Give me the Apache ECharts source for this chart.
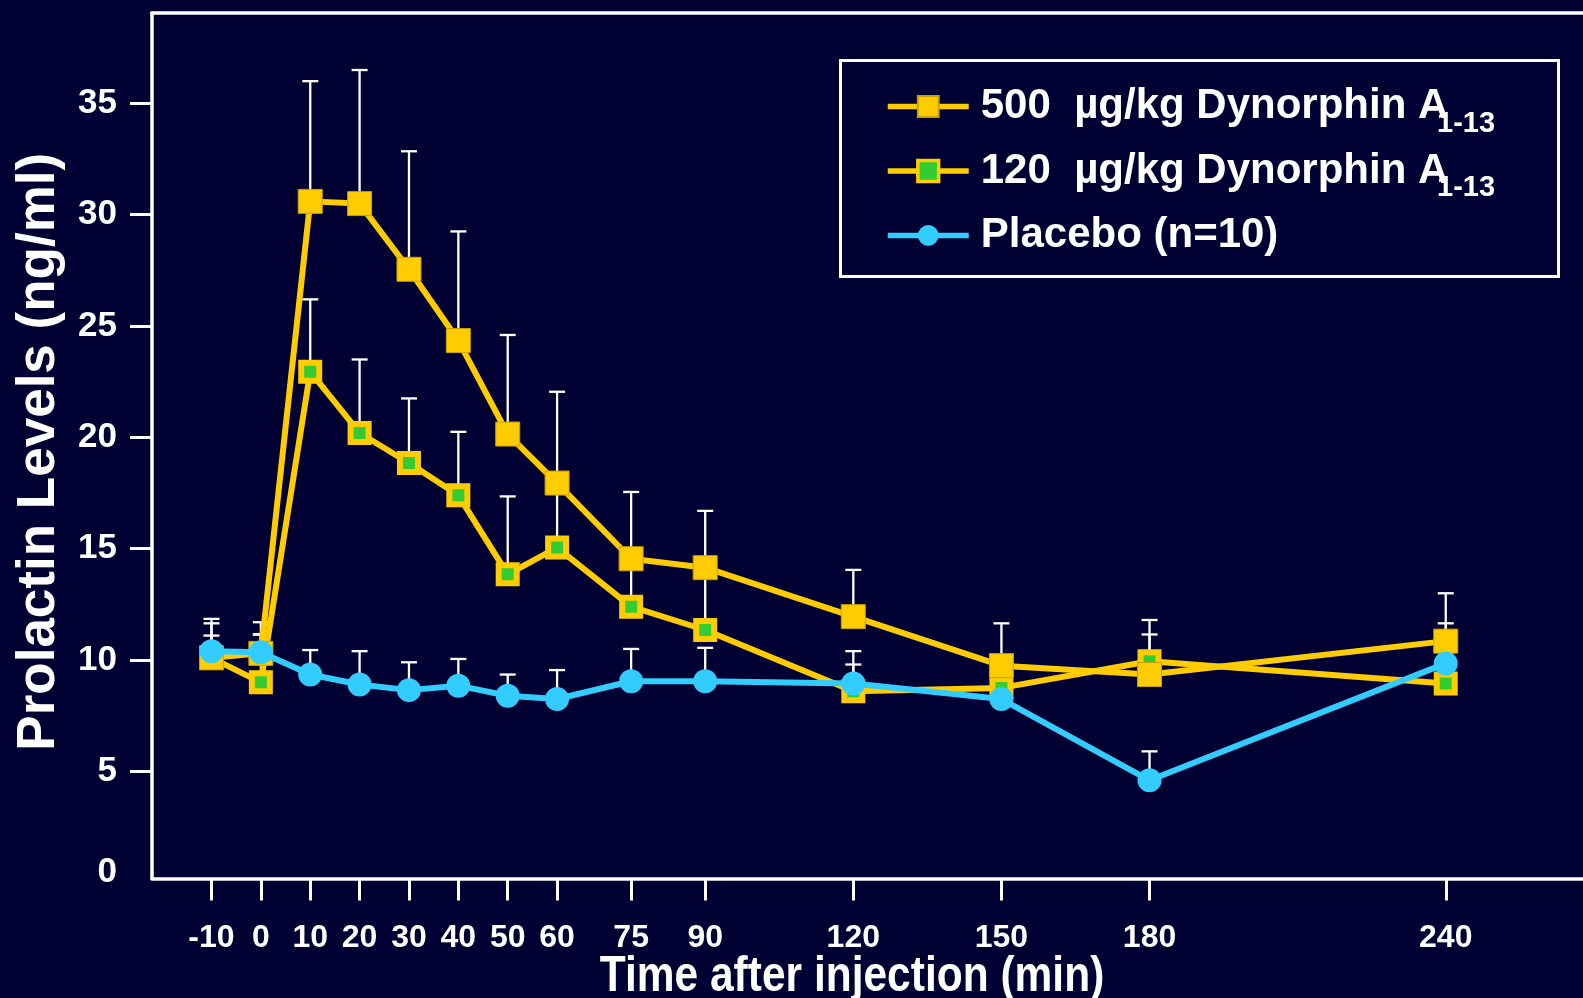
<!DOCTYPE html>
<html>
<head>
<meta charset="utf-8">
<script src="https://cdn.jsdelivr.net/npm/echarts@6/dist/echarts.min.js"></script>
<style>
  html, body { margin: 0; padding: 0; background: #000033; }
  #chart { width: 1583px; height: 998px; }
</style>
</head>
<body>
<div id="chart"></div>
<script>
// Sampling times (min after injection) and tick labels
const times = [-10, 0, 10, 20, 30, 40, 50, 60, 75, 90, 120, 150, 180, 240];
const yTicks = [0, 5, 10, 15, 20, 25, 30, 35];

// Mean prolactin (ng/ml) and upper SEM per group
const dose500 = [10.1, 10.3, 30.6, 30.5, 27.55, 24.35, 20.15, 17.95, 14.55, 14.15, 11.95, 9.75, 9.35, 10.85];
const dose500Sem = [1.75, 1.4, 5.4, 6.0, 5.3, 4.9, 4.45, 4.1, 3.0, 2.55, 2.1, 1.9, 1.8, 2.15];
const dose120 = [10.1, 9.0, 22.95, 20.2, 18.85, 17.4, 13.85, 15.05, 12.4, 11.35, 8.6, 8.75, 9.95, 8.95];
const dose120Sem = [1.0, 2.15, 3.25, 3.3, 2.9, 2.85, 3.5, 2.8, 2.1, 2.7, 1.2, 1.0, 1.85, 1.4];
const placebo = [10.4, 10.35, 9.35, 8.9, 8.65, 8.85, 8.4, 8.25, 9.05, 9.05, 8.95, 8.25, 4.6, 9.85];
const placeboSem = [1.25, 0.8, 1.1, 1.5, 1.25, 1.2, 0.95, 1.3, 1.45, 1.5, 1.45, 1.2, 1.3, 1.8];

const names = ['500  µg/kg Dynorphin A1-13', '120  µg/kg Dynorphin A1-13', 'Placebo (n=10)'];
const xTitle = 'Time after injection (min)';
const yTitle = 'Prolactin Levels (ng/ml)';

const YELLOW = '#FFCC00', GREEN = '#33CC33', CYAN = '#33CCFF', WHITE = '#FFFFFF';
const SANS = '"Liberation Sans", Arial, Helvetica, sans-serif';

// The time axis sits a hair above zero on the value scale
const Y_MIN = 0.19, Y_MAX = 39.06;
const yLabelValues = yTicks.map(v => Math.max(v, Y_MIN));
const yTickValues = yTicks.filter(v => v > Y_MIN);

const pts = (vals) => times.map((t, i) => [t, vals[i]]);
const bars = (vals, sem) => times.map((t, i) => [t, vals[i], vals[i] + sem[i]]);

// Upper-only SEM whisker with a short cap
function errorBar(params, api) {
  const x = api.value(0);
  const p0 = api.coord([x, api.value(1)]);
  const p1 = api.coord([x, api.value(2)]);
  const half = 8;
  const style = { stroke: WHITE, lineWidth: 2.3 };
  return {
    type: 'group',
    children: [
      { type: 'line', shape: { x1: p0[0], y1: p0[1], x2: p1[0], y2: p1[1] }, style },
      { type: 'line', shape: { x1: p1[0] - half, y1: p1[1], x2: p1[0] + half, y2: p1[1] }, style }
    ]
  };
}

function errSeries(vals, sem) {
  return {
    type: 'custom', renderItem: errorBar, data: bars(vals, sem),
    encode: { x: 0, y: [1, 2] }, z: 1, silent: true
  };
}

// "A1-13": subscript tucked under the right leg of the A
function legendLabel(name) {
  const m = name.match(/^(.*)A(1-13)$/);
  if (!m) return '{m|' + name + '}';
  return '{m|' + m[1] + '}{a|A}{s|' + m[2] + '}';
}

const LH = 63;
const chart = echarts.init(document.getElementById('chart'), null, { renderer: 'canvas' });
chart.setOption({
  backgroundColor: '#000033',
  animation: false,
  grid: { left: 152, right: 0, top: 13, bottom: 119.5, containLabel: false, outerBoundsMode: 'none' },
  xAxis: [{
    type: 'value', min: -22.05, max: 267.8, position: 'bottom',
    axisLine: { show: true, onZero: false, lineStyle: { color: WHITE, width: 3.5 } },
    axisTick: { show: true, customValues: times, length: 22, inside: false, lineStyle: { color: WHITE, width: 3 } },
    axisLabel: { customValues: times, color: WHITE, fontFamily: SANS, fontWeight: 'bold', fontSize: 32, margin: 44 },
    splitLine: { show: false }
  }, {
    type: 'value', min: -22.05, max: 267.8, position: 'top',
    axisLine: { show: true, onZero: false, lineStyle: { color: WHITE, width: 3.5 } },
    axisTick: { show: false }, axisLabel: { show: false }, splitLine: { show: false }
  }],
  yAxis: {
    type: 'value', min: Y_MIN, max: Y_MAX, position: 'left',
    name: yTitle, nameLocation: 'middle', nameGap: 86, nameRotate: 90,
    nameTextStyle: { color: WHITE, fontFamily: SANS, fontWeight: 'bold', fontSize: 53, padding: [0, 12, 0, 0] },
    axisLine: { show: true, onZero: false, lineStyle: { color: WHITE, width: 3.5 } },
    axisTick: { show: true, customValues: yTickValues, length: 22, lineStyle: { color: WHITE, width: 3 } },
    axisLabel: {
      customValues: yLabelValues, color: WHITE, fontFamily: SANS, fontWeight: 'bold', fontSize: 35, margin: 35,
      formatter: v => v < 1 ? '{z|0}' : String(Math.round(v)),
      rich: { z: { color: WHITE, fontFamily: SANS, fontWeight: 'bold', fontSize: 35, padding: [0, 0, 13, 0] } }
    },
    splitLine: { show: false }
  },
  legend: {
    data: [
      { name: names[0] },
      { name: names[1], itemStyle: { borderWidth: 3.5 } },
      { name: names[2] }
    ],
    orient: 'vertical', left: 885, top: 75, padding: 0,
    itemWidth: 81, itemHeight: 26, itemGap: 64.5 - LH,
    lineStyle: { width: 5.5 },
    formatter: legendLabel,
    textStyle: {
      color: WHITE, fontFamily: SANS, fontWeight: 'bold', fontSize: 42, lineHeight: LH, padding: [0, 0, 0, 7],
      rich: {
        m: { color: WHITE, fontFamily: SANS, fontWeight: 'bold', fontSize: 42, lineHeight: LH },
        a: { color: WHITE, fontFamily: SANS, fontWeight: 'bold', fontSize: 42, lineHeight: LH, width: 19 },
        s: { color: WHITE, fontFamily: SANS, fontWeight: 'bold', fontSize: 29, lineHeight: 2, verticalAlign: 'bottom' }
      }
    }
  },
  graphic: [{
    type: 'rect', left: 838, top: 58, silent: true, z: 100,
    shape: { width: 718, height: 216 },
    style: { fill: 'none', stroke: WHITE, lineWidth: 3 }
  }, {
    // x-axis title, set in a condensed width
    type: 'text', x: 852, y: 977, scaleX: 0.85, silent: true, z: 100,
    style: {
      text: xTitle, fill: WHITE, font: 'bold 50px ' + SANS,
      textAlign: 'center', textVerticalAlign: 'middle'
    }
  }],
  series: [
    errSeries(dose120, dose120Sem),
    errSeries(dose500, dose500Sem),
    errSeries(placebo, placeboSem),
    {
      name: names[1], type: 'line', data: pts(dose120), z: 2,
      symbol: 'rect', symbolSize: 18,
      lineStyle: { color: YELLOW, width: 6 },
      itemStyle: { color: GREEN, borderColor: YELLOW, borderWidth: 6 }
    },
    {
      name: names[0], type: 'line', data: pts(dose500), z: 3,
      symbol: 'rect', symbolSize: 24,
      lineStyle: { color: YELLOW, width: 6 },
      itemStyle: { color: YELLOW, borderColor: '#C9A200', borderWidth: 1 }
    },
    {
      name: names[2], type: 'line', data: pts(placebo), z: 4,
      symbol: 'circle', symbolSize: 24,
      lineStyle: { color: CYAN, width: 6 },
      itemStyle: { color: CYAN }
    }
  ]
});
</script>
</body>
</html>
